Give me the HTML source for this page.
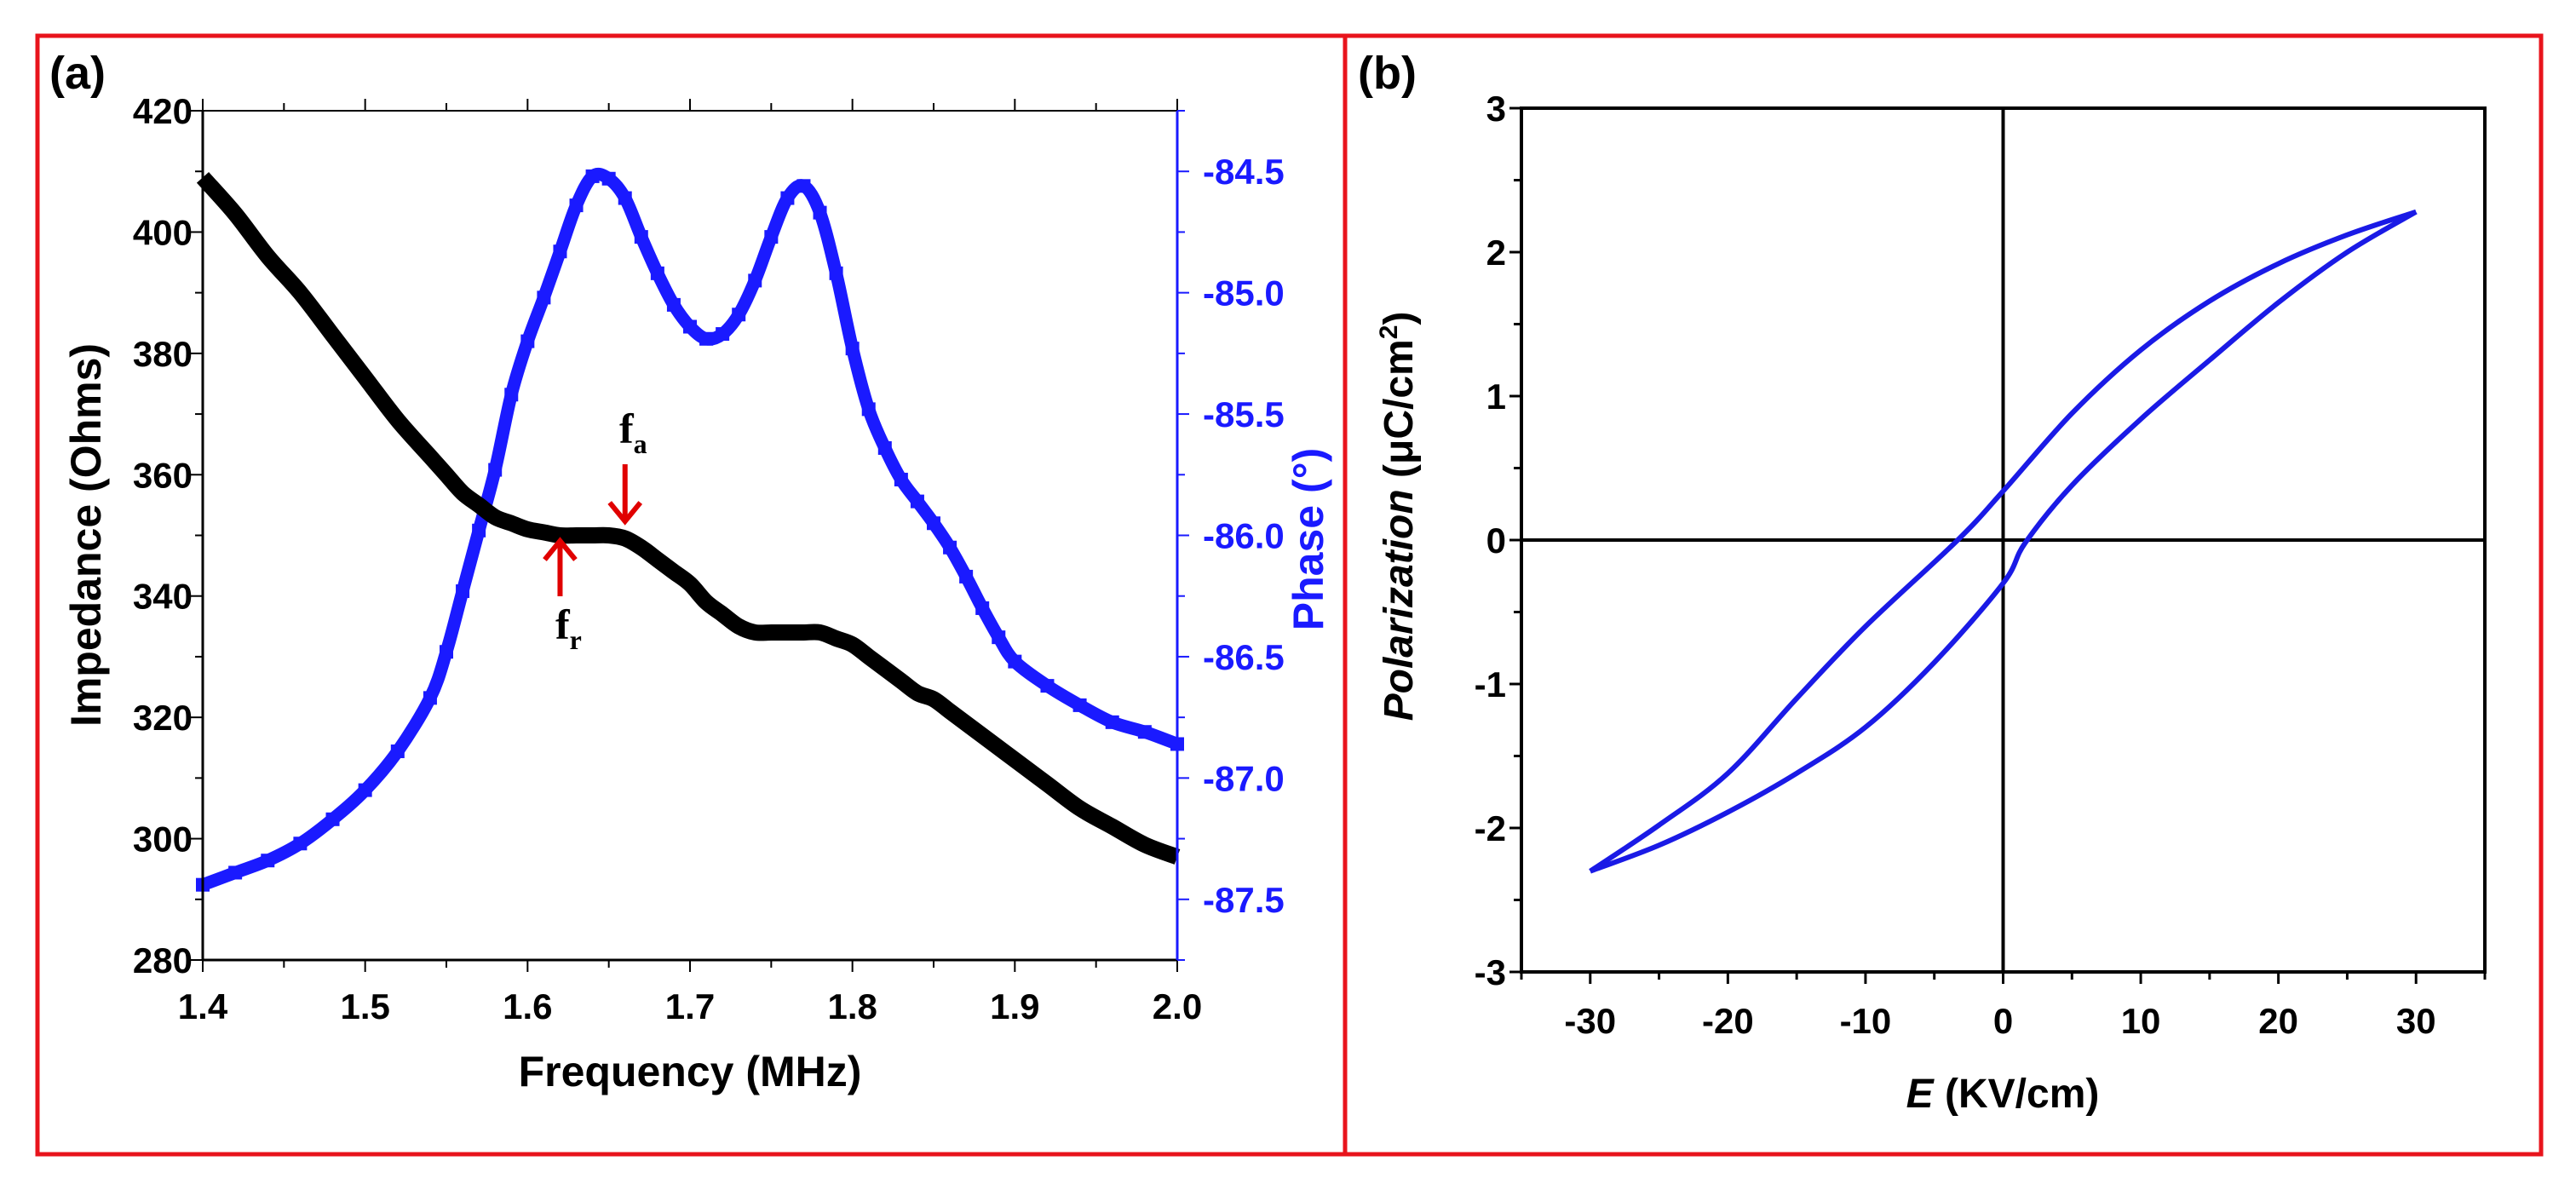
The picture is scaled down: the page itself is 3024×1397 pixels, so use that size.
<!DOCTYPE html>
<html><head><meta charset="utf-8"><style>
html,body{margin:0;padding:0;background:#fff;}
svg{display:block;font-family:"Liberation Sans",sans-serif;}
</style></head><body>
<svg id="fig" width="3024" height="1397" viewBox="0 0 3024 1397">
<rect x="44" y="42" width="1535" height="1313" fill="none" stroke="#e8141c" stroke-width="5"/>
<rect x="1579" y="42" width="1404" height="1313" fill="none" stroke="#e8141c" stroke-width="5"/>
<text x="58" y="104" font-size="54" font-weight="bold">(a)</text>
<text x="1594" y="104" font-size="54" font-weight="bold">(b)</text>
<g id="ga"></g>
<g id="gb"></g>
</svg>
<script>
// ---- Panel (a) data ----
const freq = [1.40,1.42,1.44,1.46,1.48,1.50,1.52,1.54,1.55,1.56,1.57,1.58,1.59,1.60,1.61,1.62,1.63,1.64,1.65,1.66,1.67,1.68,1.69,1.70,1.71,1.72,1.73,1.74,1.75,1.76,1.77,1.78,1.79,1.80,1.81,1.82,1.83,1.84,1.85,1.86,1.87,1.88,1.89,1.90,1.92,1.94,1.96,1.98,2.00];
const impedance = [409,403,396,390,383,376,369,363,360,357,355,353,352,351,350.5,350,350,350,350,349.5,348,346,344,342,339,337,335,334,334,334,334,334,333,332,330,328,326,324,323,321,319,317,315,313,309,305,302,299,297];
const phase = [-87.44,-87.39,-87.34,-87.27,-87.17,-87.05,-86.89,-86.67,-86.48,-86.23,-85.98,-85.73,-85.42,-85.20,-85.02,-84.83,-84.64,-84.52,-84.53,-84.61,-84.77,-84.92,-85.05,-85.14,-85.19,-85.17,-85.09,-84.95,-84.77,-84.61,-84.56,-84.67,-84.92,-85.23,-85.48,-85.64,-85.77,-85.86,-85.95,-86.05,-86.17,-86.30,-86.42,-86.52,-86.62,-86.70,-86.77,-86.81,-86.86];
const freqTicks = ["1.4","1.5","1.6","1.7","1.8","1.9","2.0"];
const impTicks = ["280","300","320","340","360","380","400","420"];
const phaseTicks = ["-87.5","-87.0","-86.5","-86.0","-85.5","-85.0","-84.5"];
// ---- Panel (b) data ----
const eUpper = [30,25,20,15,10,5,0,-3.3,-10,-15,-20,-25,-30];
const pUpper = [2.28,2.12,1.92,1.66,1.32,0.88,0.34,0,-0.6,-1.1,-1.62,-1.98,-2.3];
const eLower = [-30,-25,-20,-15,-10,-5,0,1.6,5,10,15,20,25,30];
const pLower = [-2.3,-2.12,-1.89,-1.62,-1.3,-0.85,-0.3,-0.02,0.38,0.84,1.25,1.65,2.0,2.28];
const eTicks = ["-30","-20","-10","0","10","20","30"];
const pTicks = ["-3","-2","-1","0","1","2","3"];

const NS="http://www.w3.org/2000/svg";
function mk(parent,tag,attrs){const e=document.createElementNS(NS,tag);for(const k in attrs)e.setAttribute(k,attrs[k]);parent.appendChild(e);return e;}
function smooth(pts){let d=`M${pts[0][0]},${pts[0][1]}`;for(let i=0;i<pts.length-1;i++){const p0=pts[Math.max(0,i-1)],p1=pts[i],p2=pts[i+1],p3=pts[Math.min(pts.length-1,i+2)];
d+=` C${p1[0]+(p2[0]-p0[0])/6},${p1[1]+(p2[1]-p0[1])/6} ${p2[0]-(p3[0]-p1[0])/6},${p2[1]-(p3[1]-p1[1])/6} ${p2[0]},${p2[1]}`;}return d;}

// Panel a
const ga=document.getElementById('ga');
const ax={l:238,r:1382,t:130,b:1127};
const fx=v=>ax.l+(v-1.4)/0.6*(ax.r-ax.l);
const iy=v=>ax.b-(v-280)/140*(ax.b-ax.t);
const py=v=>ax.b-(v+87.75)/3.5*(ax.b-ax.t);
const ph=mk(ga,'path',{d:smooth(freq.map((f,i)=>[fx(f),py(phase[i])])),fill:'none',stroke:'#1a1aff','stroke-width':15});


freq.forEach((f,i)=>{const r=mk(ga,'rect',{x:fx(f)-8,y:py(phase[i])-8,width:16,height:16,fill:'#1a1aff'});

});
const im=mk(ga,'path',{d:smooth(freq.map((f,i)=>[fx(f),iy(impedance[i])])),fill:'none',stroke:'#000','stroke-width':19});


mk(ga,'line',{x1:ax.l,y1:ax.t,x2:ax.r,y2:ax.t,stroke:'#000','stroke-width':2});
mk(ga,'line',{x1:ax.l,y1:ax.b,x2:ax.r,y2:ax.b,stroke:'#000','stroke-width':3});
mk(ga,'line',{x1:ax.l,y1:ax.t,x2:ax.l,y2:ax.b,stroke:'#000','stroke-width':3});
mk(ga,'line',{x1:ax.r,y1:ax.t,x2:ax.r,y2:ax.b,stroke:'#1a1aff','stroke-width':3});
for(let k=0;k<=12;k++){const x=fx(1.4+k*0.05),L=k%2?9:14;mk(ga,'line',{x1:x,y1:ax.b,x2:x,y2:ax.b+L,stroke:'#000','stroke-width':2});mk(ga,'line',{x1:x,y1:ax.t,x2:x,y2:ax.t-L,stroke:'#000','stroke-width':2});}
freqTicks.forEach(t=>{const e=mk(ga,'text',{x:fx(+t),y:1196,'font-size':42,'font-weight':'bold','text-anchor':'middle'});e.textContent=t;

});
for(let k=0;k<=14;k++){const y=iy(280+k*10),L=k%2?9:14;mk(ga,'line',{x1:ax.l,y1:y,x2:ax.l-L,y2:y,stroke:'#000','stroke-width':2});}
impTicks.forEach(t=>{const e=mk(ga,'text',{x:ax.l-12,y:iy(+t)+15,'font-size':42,'font-weight':'bold','text-anchor':'end'});e.textContent=t;

});
for(let k=0;k<=14;k++){const y=py(-87.75+k*0.25),L=k%2?14:9;mk(ga,'line',{x1:ax.r,y1:y,x2:ax.r+L,y2:y,stroke:'#1a1aff','stroke-width':2});}
phaseTicks.forEach(t=>{const e=mk(ga,'text',{x:ax.r+30,y:py(+t)+15,'font-size':42,'font-weight':'bold',fill:'#1a1aff'});e.textContent=t;

});
let t=mk(ga,'text',{x:810,y:1275,'font-size':50,'font-weight':'bold','text-anchor':'middle'});t.textContent='Frequency (MHz)';


t=mk(ga,'text',{x:0,y:0,'font-size':50,'font-weight':'bold','text-anchor':'middle',transform:'translate(118,628) rotate(-90)'});t.textContent='Impedance (Ohms)';


t=mk(ga,'text',{x:0,y:0,'font-size':50,'font-weight':'bold','text-anchor':'middle',fill:'#1a1aff',transform:'translate(1553,633) rotate(-90)'});t.textContent='Phase (°)';


function arrow(x,y1,y2,name){const g=mk(ga,'g',{});
mk(g,'line',{x1:x,y1:y1,x2:x,y2:y2,stroke:'#e00000','stroke-width':6});const s=y2>y1?-1:1;
mk(g,'polyline',{points:`${x-18},${y2+s*22} ${x},${y2} ${x+18},${y2+s*22}`,fill:'none',stroke:'#e00000','stroke-width':6});}
arrow(fx(1.66),545,612,'fa-arrow');arrow(fx(1.62),700,635,'fr-arrow');
t=mk(ga,'text',{x:727,y:520,'font-size':50,'font-weight':'bold','font-family':'Liberation Serif, serif'});t.innerHTML='f<tspan font-size="32" dy="12">a</tspan>';


t=mk(ga,'text',{x:652,y:750,'font-size':50,'font-weight':'bold','font-family':'Liberation Serif, serif'});t.innerHTML='f<tspan font-size="32" dy="12">r</tspan>';



// Panel b
const gb=document.getElementById('gb');
const bx={l:1786,r:2917,t:127,b:1141};
const ex=v=>bx.l+(v+35)/70*(bx.r-bx.l);
const pyb=v=>bx.b-(v+3)/6*(bx.b-bx.t);
mk(gb,'rect',{x:bx.l,y:bx.t,width:bx.r-bx.l,height:bx.b-bx.t,fill:'none',stroke:'#000','stroke-width':4});
mk(gb,'line',{x1:ex(0),y1:bx.t,x2:ex(0),y2:bx.b,stroke:'#000','stroke-width':4});
mk(gb,'line',{x1:bx.l,y1:pyb(0),x2:bx.r,y2:pyb(0),stroke:'#000','stroke-width':4});
for(let k=0;k<=14;k++){const x=ex(-35+k*5),L=k%2?14:9;mk(gb,'line',{x1:x,y1:bx.b,x2:x,y2:bx.b+L,stroke:'#000','stroke-width':3});}
for(let k=0;k<=12;k++){const y=pyb(-3+k*0.5),L=k%2?9:14;mk(gb,'line',{x1:bx.l,y1:y,x2:bx.l-L,y2:y,stroke:'#000','stroke-width':3});}
eTicks.forEach(s=>{const e=mk(gb,'text',{x:ex(+s),y:1213,'font-size':42,'font-weight':'bold','text-anchor':'middle'});e.textContent=s;

});
pTicks.forEach(s=>{const e=mk(gb,'text',{x:bx.l-18,y:pyb(+s)+15,'font-size':42,'font-weight':'bold','text-anchor':'end'});e.textContent=s;

});
const up=mk(gb,'path',{d:smooth(eUpper.map((e,i)=>[ex(e),pyb(pUpper[i])])),fill:'none',stroke:'#1a1ae6','stroke-width':6});


const lo=mk(gb,'path',{d:smooth(eLower.map((e,i)=>[ex(e),pyb(pLower[i])])),fill:'none',stroke:'#1a1ae6','stroke-width':6});


t=mk(gb,'text',{x:2351,y:1300,'font-size':48,'font-weight':'bold','text-anchor':'middle'});t.innerHTML='<tspan font-style="italic">E</tspan> (KV/cm)';


t=mk(gb,'text',{x:0,y:0,'font-size':48,'font-weight':'bold','text-anchor':'middle',transform:'translate(1658,606) rotate(-90)'});t.innerHTML='<tspan font-style="italic">Polarization</tspan> (μC/cm<tspan font-size="30" dy="-18">2</tspan><tspan dy="18">)</tspan>';


</script>
</body></html>
